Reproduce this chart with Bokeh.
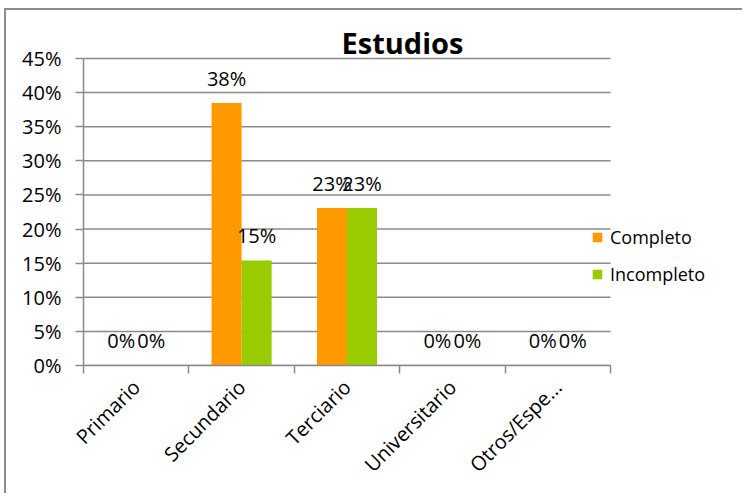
import math
from bokeh.plotting import figure
from bokeh.models import (Range1d, FixedTicker, PrintfTickFormatter, Legend,
                          LegendItem, Label, ColumnDataSource)
from bokeh.core.properties import value
from bokeh.embed import file_html
from bokeh.resources import INLINE

# ---- data ----
categories = ["Primario", "Secundario", "Terciario", "Universitario", "Otros/Espe..."]
completo = [0.0, 38.46, 23.08, 0.0, 0.0]
incompleto = [0.0, 15.38, 23.08, 0.0, 0.0]
series_names = ["Completo", "Incompleto"]
series_colors = ["#FF9900", "#99CC00"]
y_ticks = [0, 5, 10, 15, 20, 25, 30, 35, 40, 45]
title_text = "Estudios"

FONT = "Open Sans"
TXT = "#000000"
GRID = "#8a8a8a"

# ---- layout constants (pixels) ----
W, H = 738, 485
LEFT, TOP, BOTTOM = 77, 4, 130
PLOT_W, PLOT_H = 527, 307      # size of the 5-category / 0-45% area
frame_w = W - LEFT
frame_h = H - TOP - BOTTOM

n = len(categories)
y_max = y_ticks[-1]
centers = [i + 0.5 for i in range(n)]
bounds = [float(i) for i in range(n + 1)]
bar_w = 0.285
offsets = [-bar_w / 2, bar_w / 2]

x_end = n * frame_w / PLOT_W
y_end = y_max * frame_h / PLOT_H

p = figure(width=W, height=H, output_backend="svg", toolbar_location=None,
           tools="", x_range=Range1d(0, x_end), y_range=Range1d(0, y_end),
           min_border_left=LEFT, min_border_right=0, min_border_top=TOP,
           min_border_bottom=BOTTOM, outline_line_color=None)
p.styles = {"border-left": "2px solid #8c8c8c", "border-top": "2px solid #8c8c8c",
            "margin-left": "4px", "margin-top": "8px"}

# horizontal gridlines limited to the category area
p.segment(x0=[0] * len(y_ticks), x1=[n] * len(y_ticks), y0=y_ticks, y1=y_ticks,
          line_color=GRID, line_width=1.5)

renderers = []
for vals, off, col in zip([completo, incompleto], offsets, series_colors):
    src = ColumnDataSource(dict(
        x=[c + off for c in centers], top=vals,
        lbl=[f"{round(v)}%" for v in vals]))
    r = p.vbar(x="x", top="top", width=bar_w, source=src, fill_color=col,
               line_color=None)
    renderers.append(r)
    p.text(x="x", y="top", text="lbl", source=src, text_align="center",
           text_baseline="alphabetic", y_offset=-25, text_color=TXT,
           text_font=value(FONT), text_font_size="20px")

# axes
xa = p.xaxis[0]
xa.bounds = (0, n)
xa.ticker = FixedTicker(ticks=centers, minor_ticks=bounds)
xa.major_label_overrides = {c: lab for c, lab in zip(centers, categories)}
xa.major_tick_out = 0
xa.major_tick_in = 0
xa.minor_tick_out = 8
xa.minor_tick_in = 0
xa.minor_tick_line_color = GRID
xa.minor_tick_line_width = 1.5
xa.axis_line_color = GRID
xa.axis_line_width = 1.5
xa.major_label_orientation = math.pi / 4
xa.major_label_text_font = FONT
xa.major_label_text_font_size = "20px"
xa.major_label_text_color = TXT
xa.major_label_standoff = 10

ya = p.yaxis[0]
ya.bounds = (0, y_max)
ya.ticker = FixedTicker(ticks=y_ticks)
ya.formatter = PrintfTickFormatter(format="%d%%")
ya.minor_tick_line_color = None
ya.major_tick_out = 8
ya.major_tick_in = 0
ya.major_tick_line_color = GRID
ya.major_tick_line_width = 1.5
ya.axis_line_color = GRID
ya.axis_line_width = 1.5
ya.major_label_text_font = FONT
ya.major_label_text_font_size = "20px"
ya.major_label_text_color = TXT
ya.major_label_standoff = 14

p.xgrid.grid_line_color = None
p.ygrid.grid_line_color = None

# title (screen units are measured from the frame's bottom-left)
p.add_layout(Label(x=319, y=323, x_units="screen", y_units="screen",
                   text=title_text, text_align="center", text_baseline="middle",
                   text_font=FONT, text_font_style="bold", text_font_size="29px",
                   text_color=TXT))

# legend
legend = Legend(items=[LegendItem(label=nm, renderers=[r]) for nm, r in zip(series_names, renderers)],
                location=(508, 79), orientation="vertical",
                glyph_width=12, glyph_height=12, label_standoff=7,
                label_height=12, spacing=13, padding=0, margin=0,
                border_line_color=None, background_fill_alpha=0,
                label_text_font=FONT, label_text_font_size="18px",
                label_text_color=TXT)
p.add_layout(legend, "center")

open("out.html", "w").write(file_html(p, INLINE))
